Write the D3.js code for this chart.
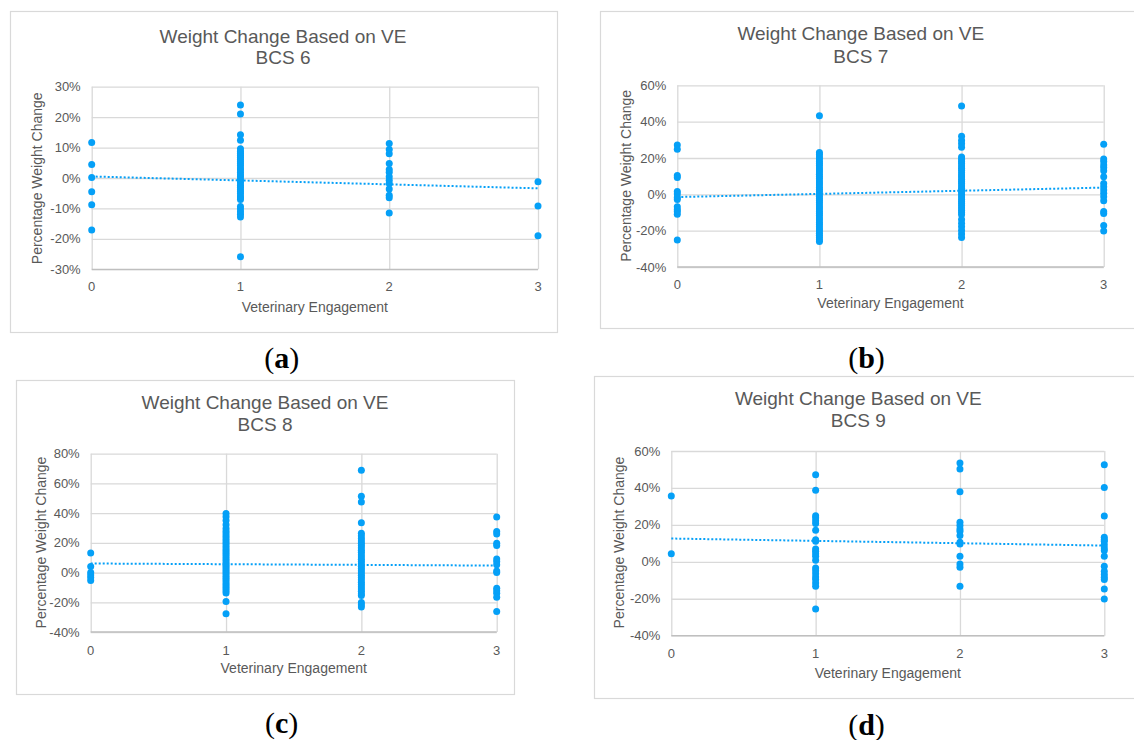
<!DOCTYPE html>
<html><head><meta charset="utf-8">
<script src="https://cdn.jsdelivr.net/npm/d3@7"></script>
<style>
body{margin:0;background:#fff}
svg{display:block}
text{font-family:"Liberation Sans",Arial,Helvetica,sans-serif}
text.caption{font-family:"Liberation Serif","DejaVu Serif",serif}
</style>
</head><body>
<svg id="chart" width="1134" height="740"></svg>
<script>
// ---- data ----
const veLevels = [0, 1, 2, 3];
const chartTitle = "Weight Change Based on VE";
const panelTitles = ["BCS 6", "BCS 7", "BCS 8", "BCS 9"];
const captions = ["a", "b", "c", "d"];
const xAxisTitle = "Veterinary Engagement";
const yAxisTitle = "Percentage Weight Change";

const yTicks6 = [-30, -20, -10, 0, 10, 20, 30];
const yTicks7 = [-40, -20, 0, 20, 40, 60];
const yTicks8 = [-40, -20, 0, 20, 40, 60, 80];
const yTicks9 = [-40, -20, 0, 20, 40, 60];

const bcs6_ve0 = [11.7, 4.4, 0.2, -4.5, -8.8, -17.1];
const bcs6_ve1 = [24.0, 21.0, 14.2, 12.4, 9.6, 8.8, 8.1, 7.5, 6.8, 6.2, 5.4, 4.8, 4.1, 3.3, 2.7, 1.9, 1.1, 0.5, -0.3, -0.9, -1.6, -2.4, -3.0, -3.8, -4.4, -5.1, -5.9, -6.5, -7.1, -9.4, -10.2, -11.1, -11.9, -12.8, -25.9];
const bcs6_ve2 = [11.3, 9.4, 8.0, 4.8, 2.8, 1.9, 0.4, -0.7, -1.8, -3.6, -5.7, -6.5, -11.5];
const bcs6_ve3 = [-1.2, -9.2, -19.0];

const bcs7_ve0 = [27.2, 24.8, 10.3, 9.2, 1.5, 0.2, -1.8, -2.8, -6.8, -8.3, -9.5, -11.0, -25.1];
const bcs7_ve1 = [43.2, 23.0, 21.9, 20.5, 19.5, 18.1, 17.0, 15.9, 14.5, 13.4, 12.3, 11.0, 9.8, 8.7, 7.3, 6.2, 5.1, 3.8, 2.6, 1.5, 0.2, -1.0, -2.3, -3.4, -4.5, -5.8, -7.0, -8.1, -9.4, -10.6, -11.7, -13.0, -14.2, -15.5, -16.6, -17.8, -19.1, -20.2, -21.4, -22.5, -23.8, -25.0, -26.0];
const bcs7_ve2 = [48.6, 31.9, 29.6, 27.8, 25.9, 20.5, 19.3, 18.1, 16.9, 15.6, 14.4, 13.2, 11.9, 10.7, 9.5, 8.3, 7.1, 5.9, 4.6, 3.4, 2.2, 1.0, -0.2, -1.5, -2.7, -3.9, -5.1, -6.3, -7.5, -8.8, -10.0, -11.3, -13.8, -15.9, -17.8, -19.9, -21.8, -23.7];
const bcs7_ve3 = [27.5, 19.4, 18.0, 16.1, 14.7, 13.0, 9.7, 6.0, 4.2, 2.4, 0.6, -1.3, -3.5, -9.5, -10.5, -17.2, -20.2];

const bcs8_ve0 = [13.2, 4.0, 0.0, -1.6, -3.4, -5.4];
const bcs8_ve1 = [39.8, 37.6, 35.0, 32.2, 29.6, 27.8, 26.1, 24.5, 22.8, 21.2, 19.7, 18.1, 16.6, 15.0, 13.5, 12.1, 10.6, 9.2, 7.8, 6.3, 4.9, 3.5, 2.1, 0.7, -0.7, -2.1, -3.5, -4.9, -6.4, -7.9, -9.3, -10.8, -12.2, -13.7, -19.5, -27.8];
const bcs8_ve2 = [68.8, 51.3, 47.5, 33.6, 26.5, 24.7, 22.9, 21.3, 19.8, 18.2, 16.7, 15.1, 13.6, 12.0, 10.5, 9.0, 7.4, 5.9, 4.3, 2.8, 1.2, -0.3, -1.8, -3.4, -4.9, -6.5, -8.0, -9.6, -11.1, -12.6, -14.2, -15.5, -20.2, -21.7, -23.1];
const bcs8_ve3 = [37.4, 27.6, 26.0, 19.7, 18.2, 9.2, 7.4, 5.2, 1.1, 0.0, -10.5, -12.3, -13.9, -16.6, -26.2];

const bcs9_ve0 = [35.7, 4.4];
const bcs9_ve1 = [47.2, 38.7, 25.0, 23.8, 22.3, 20.7, 17.1, 12.0, 11.1, 7.0, 5.7, 4.4, 3.0, 0.8, -3.3, -4.8, -6.4, -8.2, -9.6, -11.4, -13.2, -25.5];
const bcs9_ve2 = [53.5, 50.3, 38.0, 21.4, 19.6, 17.8, 16.5, 14.2, 10.6, 9.7, 3.0, -1.2, -3.0, -13.2];
const bcs9_ve3 = [52.6, 40.2, 24.8, 13.3, 12.0, 11.1, 9.3, 7.5, 6.1, 3.0, -2.4, -5.1, -6.9, -8.4, -9.6, -14.7, -20.1];

// linear trendline values at VE = 0 and VE = 3
const trend6 = [0.5, -3.4];
const trend7 = [-1.5, 3.7];
const trend8 = [6.1, 4.7];
const trend9 = [12.6, 8.8];

// ---- layout ----
const panels = [
  {ticks: yTicks6, series: [bcs6_ve0, bcs6_ve1, bcs6_ve2, bcs6_ve3], trend: trend6,
   box: [10, 11, 557, 332], plot: [91.7, 86.7, 538, 269.3], title: [283, 42.5, 63.5],
   ylab: [36.7, 178.3], xtickY: 290.7, xlabY: 311.6, cap: [281.7, 368]},
  {ticks: yTicks7, series: [bcs7_ve0, bcs7_ve1, bcs7_ve2, bcs7_ve3], trend: trend7,
   box: [600, 11, 1145, 328], plot: [677.3, 85.3, 1103.7, 267], title: [860.8, 40.1, 62.5],
   ylab: [625.7, 175.8], xtickY: 288.7, xlabY: 308, cap: [866.5, 368]},
  {ticks: yTicks8, series: [bcs8_ve0, bcs8_ve1, bcs8_ve2, bcs8_ve3], trend: trend8,
   box: [16, 380, 514, 694], plot: [90.7, 453.7, 496.7, 632], title: [265, 409, 431],
   ylab: [41, 542.5], xtickY: 654.7, xlabY: 673.3, cap: [281.7, 733]},
  {ticks: yTicks9, series: [bcs9_ve0, bcs9_ve1, bcs9_ve2, bcs9_ve3], trend: trend9,
   box: [594, 376, 1145, 698], plot: [671.3, 451, 1104.3, 635.7], title: [858.3, 404.5, 426.8],
   ylab: [618.7, 542.5], xtickY: 658, xlabY: 677.7, cap: [866.5, 735]}
];

const textColor = "#595959";
const gridColor = "#d9d9d9";
const dotColor = "#05a0f7";

const svg = d3.select("#chart");

panels.forEach((p, i) => {
  const g = svg.append("g");
  const [bx0, by0, bx1, by1] = p.box;
  g.append("rect").attr("x", bx0 + 0.5).attr("y", by0 + 0.5)
    .attr("width", bx1 - bx0).attr("height", by1 - by0)
    .attr("fill", "#fff").attr("stroke", gridColor).attr("stroke-width", 1.2);

  const [px0, py0, px1, py1] = p.plot;
  const x = d3.scaleLinear().domain(d3.extent(veLevels)).range([px0, px1]);
  const y = d3.scaleLinear().domain(d3.extent(p.ticks)).range([py1, py0]);

  // horizontal gridlines
  g.append("g").attr("transform", `translate(${px0},0)`)
    .call(d3.axisLeft(y).tickValues(p.ticks).tickSize(-(px1 - px0)).tickFormat(""))
    .call(s => s.select(".domain").remove())
    .call(s => s.selectAll("line").attr("stroke", gridColor).attr("stroke-width", 1.3));
  // vertical gridlines
  g.append("g").attr("transform", `translate(0,${py0})`)
    .call(d3.axisTop(x).tickValues(veLevels).tickSize(-(py1 - py0)).tickFormat(""))
    .call(s => s.select(".domain").remove())
    .call(s => s.selectAll("line").attr("stroke", gridColor).attr("stroke-width", 1.3));
  // bottom axis line
  g.append("line").attr("x1", px0).attr("x2", px1).attr("y1", y(p.ticks[0])).attr("y2", y(p.ticks[0]))
    .attr("stroke", "#bfbfbf").attr("stroke-width", 1.3);

  // y tick labels
  g.selectAll(".ytl").data(p.ticks).join("text")
    .attr("x", px0 - 11).attr("y", d => y(d)).attr("dy", "0.35em")
    .attr("text-anchor", "end").attr("font-size", 13).attr("fill", textColor)
    .text(d => d + "%");
  // x tick labels
  g.selectAll(".xtl").data(veLevels).join("text")
    .attr("x", d => x(d)).attr("y", p.xtickY)
    .attr("text-anchor", "middle").attr("font-size", 13).attr("fill", textColor)
    .text(d => d);

  // titles
  g.append("text").attr("x", p.title[0]).attr("y", p.title[1]).attr("text-anchor", "middle")
    .attr("font-size", 19).attr("fill", textColor).text(chartTitle);
  g.append("text").attr("x", p.title[0]).attr("y", p.title[2]).attr("text-anchor", "middle")
    .attr("font-size", 19).attr("fill", textColor).text(panelTitles[i]);

  // axis titles
  g.append("text").attr("x", (px0 + px1) / 2).attr("y", p.xlabY).attr("text-anchor", "middle")
    .attr("font-size", 14).attr("fill", textColor).text(xAxisTitle);
  g.append("text").attr("transform", `translate(${p.ylab[0]},${p.ylab[1]}) rotate(-90)`)
    .attr("text-anchor", "middle").attr("dy", "0.35em")
    .attr("font-size", 14).attr("fill", textColor).text(yAxisTitle);

  // trendline
  const line = d3.line().x(d => x(d[0])).y(d => y(d[1]));
  g.append("path").datum([[veLevels[0], p.trend[0]], [veLevels[veLevels.length - 1], p.trend[1]]])
    .attr("d", line).attr("fill", "none").attr("stroke", dotColor)
    .attr("stroke-width", 2).attr("stroke-dasharray", "2,2");

  // points
  const pts = [];
  p.series.forEach((vals, k) => vals.forEach(v => pts.push([veLevels[k], v])));
  g.selectAll(".pt").data(pts).join("circle")
    .attr("cx", d => x(d[0])).attr("cy", d => y(d[1])).attr("r", 3.5)
    .attr("fill", dotColor);

  // caption
  const cap = svg.append("text").attr("class", "caption").attr("x", p.cap[0]).attr("y", p.cap[1])
    .attr("text-anchor", "middle").attr("font-size", 30).attr("fill", "#000");
  cap.append("tspan").text("(");
  cap.append("tspan").attr("font-weight", "bold").text(captions[i]);
  cap.append("tspan").text(")");
});
</script>
</body></html>
